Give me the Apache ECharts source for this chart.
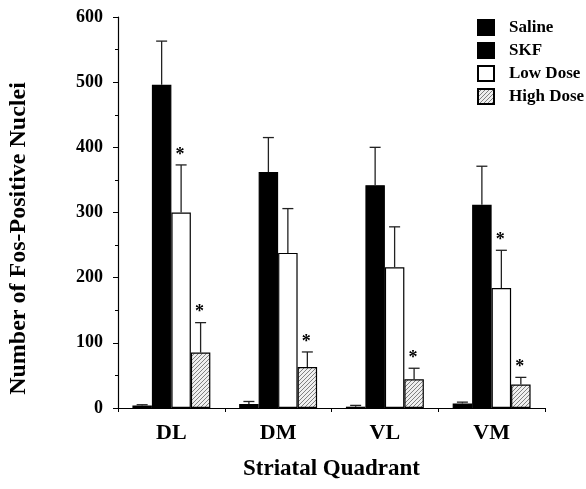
<!DOCTYPE html>
<html><head><meta charset="utf-8">
<script src="https://cdn.jsdelivr.net/npm/echarts@6/dist/echarts.min.js"></script>
<style>html,body{margin:0;padding:0;background:#fff}#c{width:586px;height:489px}</style>
</head><body><div id="c"></div>
<script>
const categories = ['DL', 'DM', 'VL', 'VM'];
const seriesNames = ['Saline', 'SKF', 'Low Dose', 'High Dose'];
const saline = [4, 6, 2, 7];
const salineErr = [1, 4, 2, 2];
const skf = [496, 362, 342, 312];
const skfErr = [67, 53, 58, 59];
const lowDose = [300, 238, 216, 184];
const lowDoseErr = [73, 68, 62, 58];
const highDose = [85, 63, 44, 36];
const highDoseErr = [46, 23, 17, 11];
const lowSig = [true, false, false, true];
const highSig = [true, true, true, true];
const yTicks = { min: 0, max: 600, interval: 100 };

const FONT = '"Liberation Serif", "DejaVu Serif", serif';
const chart = echarts.init(document.getElementById('c'), null, { renderer: 'canvas' });

// hatch pattern
const pc = document.createElement('canvas');
pc.width = 4; pc.height = 4;
const ctx = pc.getContext('2d');
ctx.fillStyle = '#efefef'; ctx.fillRect(0, 0, 4, 4);
ctx.strokeStyle = '#808080'; ctx.lineWidth = 1;
ctx.beginPath(); ctx.moveTo(-1, 5); ctx.lineTo(5, -1); ctx.stroke();
ctx.beginPath(); ctx.moveTo(-1, 1); ctx.lineTo(1, -1); ctx.stroke();
ctx.beginPath(); ctx.moveTo(3, 5); ctx.lineTo(5, 3); ctx.stroke();

const vals = [saline, skf, lowDose, highDose];
const errs = [salineErr, skfErr, lowDoseErr, highDoseErr];
const sigs = [[false,false,false,false],[false,false,false,false], lowSig, highSig];
const errData = [];
for (let s = 0; s < 4; s++) for (let i = 0; i < categories.length; i++) {
  errData.push([i, vals[s][i], errs[s][i], s, sigs[s][i] ? 1 : 0]);
}
const gapPct = 0.27;
const colors = ['#000', '#000', '#fff', { image: pc, repeat: 'repeat' }];

const barSeries = seriesNames.map((n, s) => ({
  name: n, type: 'bar', data: vals[s],
  barGap: '0%', barCategoryGap: (gapPct * 100) + '%',
  itemStyle: { color: colors[s], borderColor: '#000', borderWidth: 1.2 },
  z: 2
}));

chart.setOption({
  animation: false,
  grid: { left: 118, right: 41, top: 17, bottom: 81, outerBoundsMode: 'none', containLabel: false },
  legend: {
    data: seriesNames, orient: 'vertical', left: 472, top: 14,
    itemWidth: 16, itemHeight: 15, itemGap: 6, icon: 'rect',
    textStyle: { fontFamily: FONT, fontWeight: 'bold', fontSize: 17, color: '#000', padding: [0, 0, 0, 10] },
    selectedMode: false
  },
  xAxis: {
    type: 'category', data: categories,
    name: 'Striatal Quadrant', nameLocation: 'middle', nameGap: 50,
    nameTextStyle: { fontFamily: FONT, fontWeight: 'bold', fontSize: 23, color: '#000' },
    axisLine: { lineStyle: { color: '#000', width: 1.2 } },
    axisTick: { show: true, length: 4, lineStyle: { color: '#000' } },
    axisLabel: { fontFamily: FONT, fontWeight: 'bold', fontSize: 22, color: '#000', margin: 14 }
  },
  yAxis: {
    type: 'value', min: yTicks.min, max: yTicks.max, interval: yTicks.interval,
    name: 'Number of Fos-Positive Nuclei', nameLocation: 'middle', nameGap: 87,
    nameTextStyle: { fontFamily: FONT, fontWeight: 'bold', fontSize: 24, color: '#000', padding: [0, 52, 0, 0] },
    axisLine: { show: true, lineStyle: { color: '#000', width: 1.2 } },
    axisTick: { show: true, length: 5, lineStyle: { color: '#000' } },
    minorTick: { show: true, splitNumber: 2, length: 3, lineStyle: { color: '#000' } },
    splitLine: { show: false },
    axisLabel: { fontFamily: FONT, fontWeight: 'bold', fontSize: 18, color: '#000', margin: 15 }
  },
  series: barSeries.concat([{
    type: 'custom', name: 'err', z: 5,
    data: errData,
    renderItem: function (params, api) {
      const cat = api.value(0), v = api.value(1), e = api.value(2), s = api.value(3), sig = api.value(4);
      const band = api.size([1, 0])[0];
      const bw = band * (1 - gapPct) / 4;
      const cx = api.coord([cat, 0])[0] + (s - 1.5) * bw;
      const yb = api.coord([cat, v])[1];
      const yt = api.coord([cat, v + e])[1];
      const st = { stroke: '#222', lineWidth: 1.3 };
      const ch = [
        { type: 'line', shape: { x1: cx, y1: yb, x2: cx, y2: yt }, style: st },
        { type: 'line', shape: { x1: cx - 5.5, y1: yt, x2: cx + 5.5, y2: yt }, style: st }
      ];
      if (sig) ch.push({ type: 'text', style: { text: '*', x: cx - 1, y: yt - 19, align: 'center', verticalAlign: 'top', fontFamily: FONT, fontWeight: 'bold', fontSize: 18, fill: '#000' } });
      return { type: 'group', children: ch };
    }
  }])
});
</script></body></html>
